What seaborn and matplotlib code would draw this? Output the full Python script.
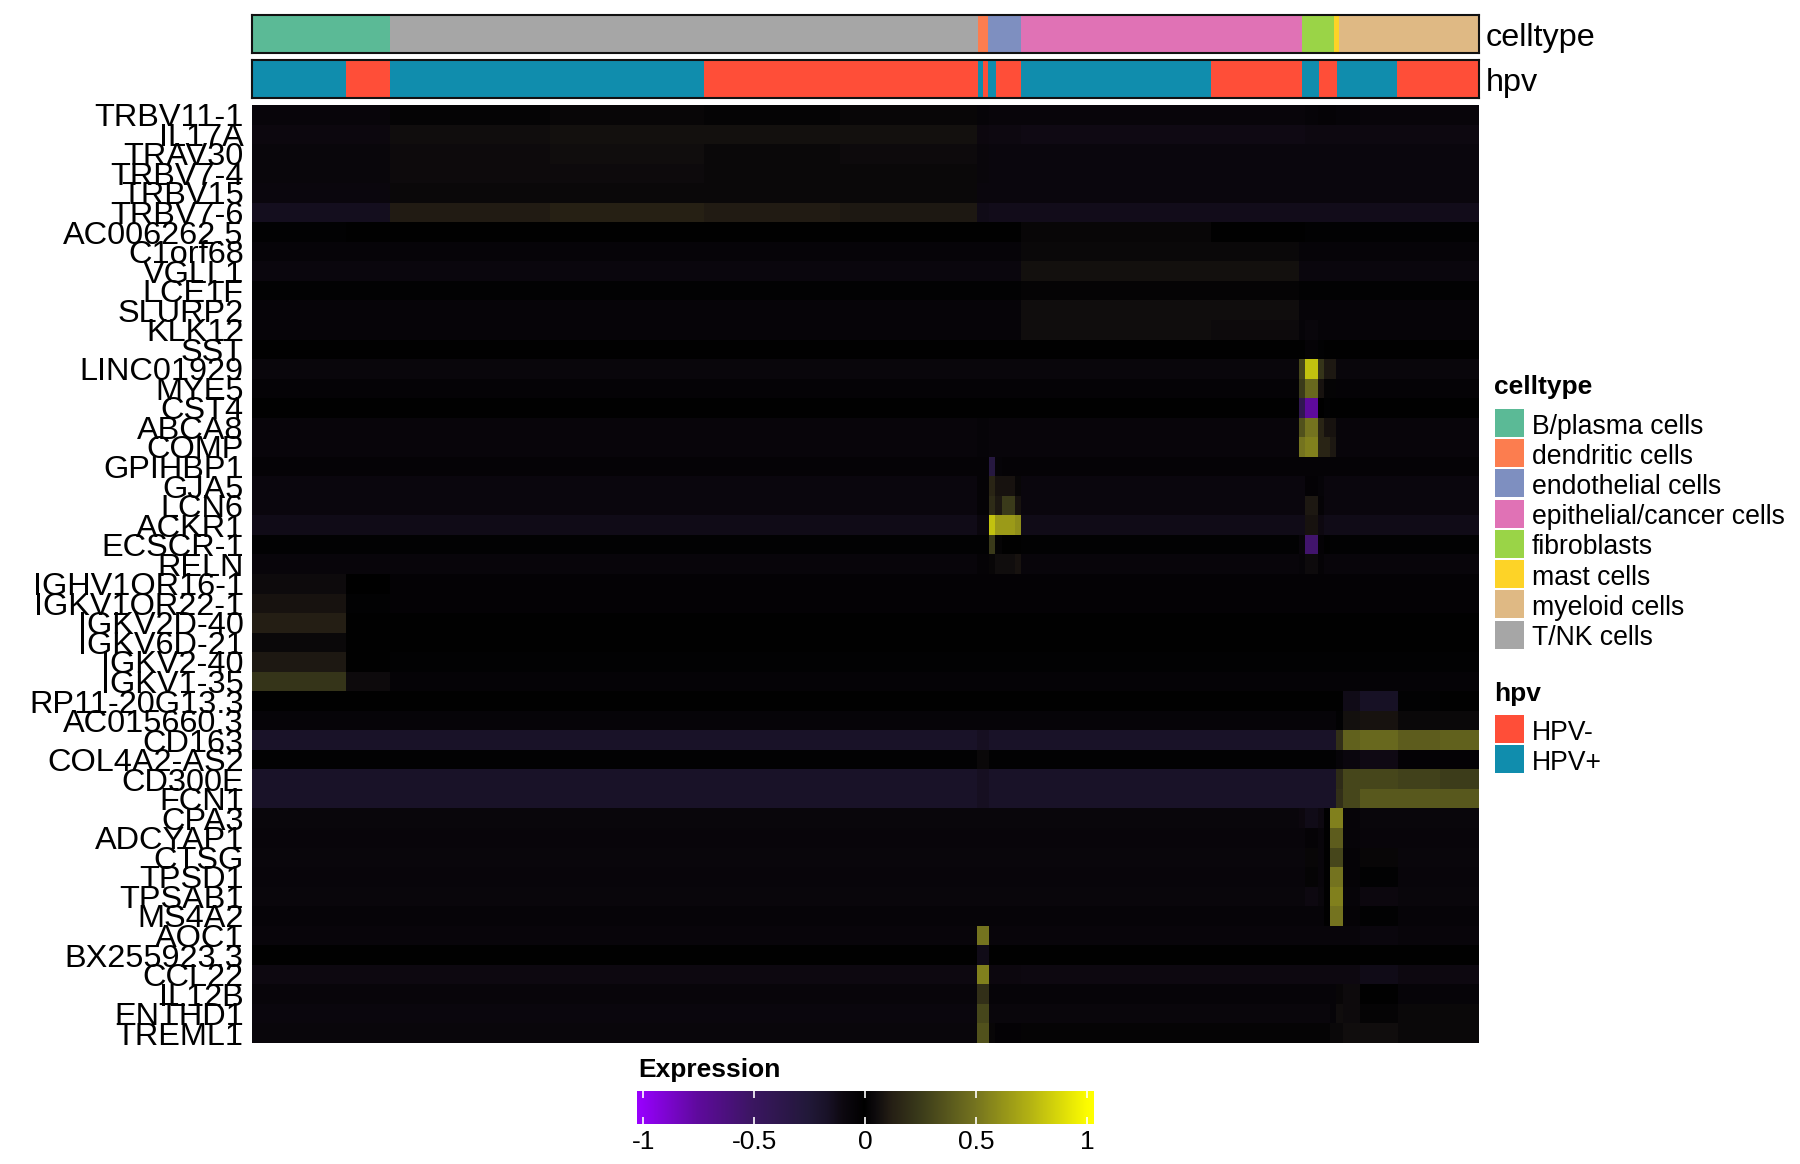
import numpy as np
import pandas as pd
import matplotlib
matplotlib.use("Agg")
import matplotlib.pyplot as plt
from matplotlib.colors import LinearSegmentedColormap, ListedColormap
from matplotlib.patches import Rectangle
from matplotlib.transforms import ScaledTranslation
import seaborn as sns

sns.set_theme(style="white")
plt.rcParams['font.family'] = ['Liberation Sans', 'DejaVu Sans']

W, H = 1800, 1164

genes = ["TRBV11-1", "IL17A", "TRAV30", "TRBV7-4", "TRBV15", "TRBV7-6", "AC006262.5", "C1orf68",
         "VGLL1", "LCE1F", "SLURP2", "KLK12", "SST", "LINC01929", "MYE5", "CST4", "ABCA8", "COMP",
         "GPIHBP1", "GJA5", "LCN6", "ACKR1", "ECSCR-1", "RELN", "IGHV1OR16-1", "IGKV1OR22-1",
         "IGKV2D-40", "IGKV6D-21", "IGKV2-40", "IGKV1-35", "RP11-20G13.3", "AC015660.3", "CD163",
         "COL4A2-AS2", "CD300E", "FCN1", "CPA3", "ADCYAP1", "CTSG", "TPSD1", "TPSAB1", "MS4A2",
         "AOC1", "BX255923.3", "CCL22", "IL12B", "ENTHD1", "TREML1"]

# column blocks of the expression matrix (number of columns per block)
block_sizes = [95, 44, 160, 154, 136, 137, 12, 6, 7, 13, 6, 190, 88, 6, 13, 6, 6, 6, 7, 17, 38, 42, 39]

# one list per gene, one value per block
# B1 B2 | Ta Tb Tc Td | DC | E1 E2 E3 E4 | P1 P2 P3 | F1 F2 F3 | M1 M2 | Y1 Y2 Y3 Y4
expr_rows = [
 [-.06,-.06, .02, .03, .02, .03,-.05,-.06,-.06,-.06,-.06,-.06,-.06,-.06,-.05,-.04,-.04,-.04,-.05,-.05,-.06,-.06,-.06],
 [-.09,-.09, .06, .07, .07, .07,-.09,-.10,-.10,-.10,-.10,-.11,-.11,-.11,-.10,-.10,-.10,-.10,-.10,-.10,-.10,-.10,-.10],
 [-.07,-.07, .05, .06, .04, .05,-.07,-.08,-.08,-.08,-.08,-.08,-.08,-.08,-.08,-.08,-.08,-.08,-.08,-.08,-.08,-.08,-.08],
 [-.07,-.07, .05, .05, .04, .04,-.07,-.08,-.08,-.08,-.08,-.08,-.08,-.08,-.08,-.08,-.08,-.08,-.08,-.08,-.08,-.08,-.08],
 [-.08,-.08, .04, .04, .04, .04,-.08,-.08,-.08,-.08,-.08,-.08,-.08,-.08,-.08,-.08,-.08,-.08,-.08,-.08,-.08,-.08,-.08],
 [-.14,-.14, .11, .13, .11, .10,-.12,-.13,-.13,-.13,-.13,-.13,-.13,-.13,-.13,-.13,-.13,-.13,-.13,-.13,-.13,-.13,-.13],
 [-.02,-.01,-.01,-.01,-.01,-.01,-.01,-.01,-.01,-.01,-.01, .03,-.01,-.01,-.02,-.02,-.02,-.02,-.02,-.02,-.02,-.02,-.02],
 [-.05,-.05,-.05,-.05,-.05,-.05,-.05,-.05,-.05,-.05,-.05, .04, .04,-.05,-.05,-.05,-.05,-.05,-.05,-.05,-.05,-.05,-.05],
 [-.08,-.08,-.08,-.08,-.08,-.08,-.08,-.08,-.08,-.08,-.08, .07, .07,-.08,-.08,-.08,-.08,-.08,-.08,-.08,-.08,-.08,-.08],
 [-.02,-.02,-.02,-.02,-.02,-.02,-.02,-.02,-.02,-.02,-.02, .02, .02,-.02,-.02,-.02,-.02,-.02,-.02,-.02,-.02,-.02,-.02],
 [-.05,-.05,-.05,-.05,-.05,-.05,-.05,-.05,-.05,-.05,-.05, .06, .06,-.05,-.05,-.05,-.05,-.05,-.05,-.05,-.05,-.05,-.05],
 [-.05,-.05,-.05,-.05,-.05,-.05,-.05,-.05,-.05,-.05,-.05, .06, .05,-.05,-.07,-.05,-.05,-.05,-.05,-.05,-.05,-.05,-.05],
 [-.01,-.01,-.01,-.01,-.01,-.01,-.01,-.01,-.01,-.01,-.01,-.01,-.01,-.01,-.04,-.02,-.01,-.01,-.01,-.01,-.01,-.01,-.01],
 [-.07,-.07,-.07,-.07,-.07,-.07,-.07,-.07,-.07,-.07,-.07,-.07,-.07, .30, .80, .22, .10, .10,-.07,-.07,-.07,-.07,-.07],
 [-.04,-.04,-.04,-.04,-.04,-.04,-.04,-.04,-.04,-.04,-.04,-.04,-.04, .25, .45, .08, .02, .02,-.04,-.04,-.04,-.04,-.04],
 [-.01,-.01,-.01,-.01,-.01,-.01,-.01,-.01,-.01,-.01,-.01,-.01,-.01,-.40,-.75, .00,-.02,-.01,-.01,-.01,-.01,-.01,-.01],
 [-.06,-.06,-.06,-.06,-.06,-.06,-.05,-.06,-.06,-.06,-.06,-.06,-.06, .35, .50, .15, .08, .08,-.06,-.06,-.06,-.06,-.06],
 [-.06,-.06,-.06,-.06,-.06,-.06,-.05,-.06,-.06,-.06,-.06,-.06,-.06, .50, .55, .15, .15, .10,-.06,-.06,-.06,-.06,-.06],
 [-.04,-.04,-.04,-.04,-.04,-.04,-.04,-.30,-.05,-.04,-.04,-.04,-.04,-.04,-.04,-.04,-.04,-.04,-.04,-.04,-.04,-.04,-.04],
 [-.08,-.08,-.08,-.08,-.08,-.08,-.04, .15, .08, .08, .03,-.08,-.08,-.08,-.03,-.05,-.08,-.08,-.08,-.08,-.08,-.08,-.08],
 [-.08,-.08,-.08,-.08,-.08,-.08,-.04, .18, .10, .25, .08,-.08,-.08,-.08, .10,-.04,-.08,-.08,-.08,-.08,-.08,-.08,-.08],
 [-.12,-.12,-.12,-.12,-.12,-.12,-.08, .80, .65, .65, .60,-.12,-.12,-.12, .08,-.10,-.12,-.12,-.12,-.12,-.12,-.12,-.12],
 [-.02,-.02,-.02,-.02,-.02,-.02,-.02, .25, .02,-.01,-.01,-.02,-.02,-.06,-.55,-.03,-.01,-.02,-.02,-.02,-.02,-.02,-.02],
 [-.06,-.06,-.06,-.06,-.06,-.06,-.04, .03, .06, .06, .08,-.06,-.06,-.05, .05,-.04,-.06,-.06,-.06,-.06,-.06,-.06,-.06],
 [ .05, .00,-.03,-.03,-.03,-.03,-.03,-.03,-.03,-.03,-.03,-.03,-.03,-.03,-.03,-.03,-.03,-.03,-.03,-.03,-.03,-.03,-.03],
 [ .08,-.02,-.03,-.03,-.03,-.03,-.03,-.03,-.03,-.03,-.03,-.03,-.03,-.03,-.03,-.03,-.03,-.03,-.03,-.03,-.03,-.03,-.03],
 [ .12,-.01,-.01,-.01,-.01,-.01,-.01,-.01,-.01,-.01,-.01,-.01,-.01,-.01,-.01,-.01,-.01,-.01,-.01,-.01,-.01,-.01,-.01],
 [ .04,-.01,-.01,-.01,-.01,-.01,-.01,-.01,-.01,-.01,-.01,-.01,-.01,-.01,-.01,-.01,-.01,-.01,-.01,-.01,-.01,-.01,-.01],
 [ .10,-.01,-.02,-.02,-.02,-.02,-.02,-.02,-.02,-.02,-.02,-.02,-.02,-.02,-.02,-.02,-.02,-.02,-.02,-.02,-.02,-.02,-.02],
 [ .22, .05,-.04,-.04,-.04,-.04,-.04,-.04,-.04,-.04,-.04,-.04,-.04,-.04,-.04,-.04,-.04,-.04,-.04,-.04,-.04,-.04,-.04],
 [-.01,-.01,-.01,-.01,-.01,-.01,-.01,-.01,-.01,-.01,-.01,-.01,-.01,-.01,-.01,-.01,-.01,-.01,-.01,-.12,-.16,-.02,-.01],
 [-.05,-.05,-.05,-.05,-.05,-.05,-.05,-.05,-.05,-.05,-.05,-.05,-.05,-.05,-.05,-.05,-.05,-.05,-.02, .07, .08, .04, .04],
 [-.17,-.17,-.17,-.17,-.17,-.17,-.15,-.17,-.17,-.17,-.17,-.17,-.17,-.17,-.17,-.17,-.17,-.17, .20, .42, .45, .40, .42],
 [-.02,-.02,-.02,-.02,-.02,-.02, .04,-.02,-.02,-.02,-.02,-.02,-.02,-.02,-.02,-.02,-.02,-.02,-.05,-.08,-.11,-.03,-.03],
 [-.17,-.17,-.17,-.17,-.17,-.17,-.15,-.17,-.17,-.17,-.17,-.17,-.17,-.17,-.17,-.17,-.17,-.17, .18, .30, .30, .28, .26],
 [-.17,-.17,-.17,-.17,-.17,-.17,-.15,-.17,-.17,-.17,-.17,-.17,-.17,-.17,-.17,-.17,-.17,-.17, .20, .30, .38, .38, .38],
 [-.07,-.07,-.07,-.07,-.07,-.07,-.07,-.07,-.07,-.07,-.07,-.07,-.07,-.09,-.12,-.10,-.01, .55, .55,-.05,-.07,-.07,-.07],
 [-.06,-.06,-.06,-.06,-.06,-.06,-.06,-.06,-.06,-.06,-.06,-.06,-.06,-.06,-.04,-.06,-.01, .40, .40,-.05,-.06,-.06,-.06],
 [-.07,-.07,-.07,-.07,-.07,-.07,-.07,-.07,-.07,-.07,-.07,-.07,-.07,-.07, .03,-.06,-.01, .30, .30,-.04, .03,-.07,-.07],
 [-.06,-.06,-.06,-.06,-.06,-.06,-.06,-.06,-.06,-.06,-.06,-.06,-.06,-.06, .02,-.06,-.01, .50, .50,-.04,-.02,-.06,-.06],
 [-.07,-.07,-.07,-.07,-.07,-.07,-.07,-.07,-.07,-.07,-.07,-.07,-.07,-.07,-.10,-.07,-.01, .55, .55,-.05,-.09,-.07,-.07],
 [-.05,-.05,-.05,-.05,-.05,-.05,-.05,-.05,-.05,-.05,-.05,-.05,-.05,-.05,-.05,-.05,-.01, .50, .50,-.04,-.02,-.05,-.05],
 [-.06,-.06,-.06,-.06,-.06,-.06, .50,-.06,-.06,-.06,-.06,-.06,-.06,-.06,-.06,-.06,-.06,-.06,-.06,-.06,-.08,-.06,-.06],
 [-.01,-.01,-.01,-.01,-.01,-.01,-.12,-.01,-.01,-.01,-.01,-.01,-.01,-.01,-.01,-.01,-.01,-.01,-.01,-.01,-.01,-.01,-.01],
 [-.10,-.10,-.10,-.10,-.10,-.10, .55,-.09,-.09,-.09,-.09,-.10,-.10,-.10,-.10,-.10,-.10,-.10,-.10,-.10,-.12,-.10,-.10],
 [-.06,-.06,-.06,-.06,-.06,-.06, .20,-.05,-.05,-.05,-.05,-.05,-.05,-.05,-.05,-.05,-.05,-.05, .03, .05,-.01,-.05,-.05],
 [-.08,-.08,-.08,-.08,-.08,-.08, .30,-.07,-.07,-.07,-.07,-.07,-.07,-.07,-.07,-.07,-.07,-.05, .06, .05, .02, .04, .04],
 [-.07,-.07,-.07,-.07,-.07,-.07, .35, .03,-.03,-.03,-.03, .02, .02, .02, .02, .02, .02, .04, .04, .06, .06, .04, .04],
]

celltype_names = ["B/plasma cells", "dendritic cells", "endothelial cells", "epithelial/cancer cells",
                  "fibroblasts", "mast cells", "myeloid cells", "T/NK cells"]
celltype_colors = ["#5BBA96", "#FC7D4F", "#7E8FC0", "#E072B5", "#9AD447", "#FDD327", "#DFB984", "#A6A6A6"]
celltype_order = [0, 7, 1, 2, 3, 4, 5, 6]
celltype_counts = [139, 588, 10, 33, 281, 32, 5, 140]

hpv_names = ["HPV-", "HPV+"]
hpv_colors = ["#FF4E38", "#108DAD"]
hpv_runs = [1, 0, 1, 0, 1, 0, 1, 0, 1, 0, 1, 0, 0, 1, 1, 0]
hpv_counts = [95, 44, 314, 274, 5, 5, 8, 25, 190, 91, 17, 15, 3, 1, 59, 82]

cbar_ticks = [-1, -0.5, 0, 0.5, 1]
cbar_ticklabels = ["-1", "-0.5", "0", "0.5", "1"]


def axes_px(x0, y0, x1, y1):
    return [x0 / W, 1 - y1 / H, (x1 - x0) / W, (y1 - y0) / H]


fig = plt.figure(figsize=(18, 11.64), dpi=100, facecolor="white")

# expression colour scale: purple, black, yellow (colour bar runs a little past +-1)
vlim = 1.03
nodes = [(-1.03, "#9A00FF"), (-1.0, "#9400F8"), (-0.75, "#5E0A9C"), (-0.5, "#3A1660"), (-0.25, "#211838"),
         (-0.17, "#191228"), (-0.1, "#0D0810"), (0, "#000000"), (0.05, "#0D0A0C"), (0.12, "#241E14"),
         (0.25, "#3A3A1A"), (0.5, "#74731F"), (0.75, "#B4B313"), (1.0, "#FBFB00"), (1.03, "#FFFF00")]
cmap = LinearSegmentedColormap.from_list("pby", [((v + vlim) / (2 * vlim), c) for v, c in nodes], N=1024)

# celltype strip
ax_ct = fig.add_axes(axes_px(251.5, 14.8, 1479, 52.8))
ct_codes = np.repeat(celltype_order, celltype_counts)[None, :]
sns.heatmap(ct_codes, ax=ax_ct, cmap=ListedColormap(celltype_colors), vmin=-0.5, vmax=7.5,
            cbar=False, xticklabels=False, yticklabels=False)

# hpv strip
ax_hpv = fig.add_axes(axes_px(251.5, 60, 1479, 98))
hpv_codes = np.repeat(hpv_runs, hpv_counts)[None, :]
sns.heatmap(hpv_codes, ax=ax_hpv, cmap=ListedColormap(hpv_colors), vmin=-0.5, vmax=1.5,
            cbar=False, xticklabels=False, yticklabels=False)

for ax, label in ((ax_ct, "celltype"), (ax_hpv, "hpv")):
    for s in ax.spines.values():
        s.set_visible(True)
        s.set_color("#111111")
        s.set_linewidth(1.5)
    ax.text(1.0058, 0.48, label, transform=ax.transAxes, ha="left", va="center_baseline",
            fontsize=23.3, color="black")

# expression matrix
ax_heat = fig.add_axes(axes_px(251.5, 105, 1479, 1043))
ax_cbar = fig.add_axes(axes_px(636.7, 1091, 1094, 1123.5))
matrix = pd.DataFrame(np.repeat(np.array(expr_rows), block_sizes, axis=1), index=genes)
sns.heatmap(matrix, ax=ax_heat, cmap=cmap, vmin=-vlim, vmax=vlim, center=None,
            xticklabels=False, yticklabels=True, cbar_ax=ax_cbar,
            cbar_kws={"orientation": "horizontal", "ticks": cbar_ticks}, rasterized=True)
ax_heat.tick_params(axis="y", length=0, pad=5.6, labelsize=23.4, labelcolor="black", rotation=0)
label_shift = ScaledTranslation(0, -3.5 / 100, fig.dpi_scale_trans)
for t in ax_heat.get_yticklabels():
    t.set_va("center")
    t.set_ha("right")
    t.set_transform(t.get_transform() + label_shift)

# colour bar
ax_cbar.set_axisbelow(False)
ax_cbar.set_xticks(cbar_ticks)
ax_cbar.set_xticklabels(cbar_ticklabels, fontsize=19, color="black")
ax_cbar.tick_params(axis="x", which="major", direction="in", length=5, width=1.2, color="white",
                    top=True, bottom=True, pad=4.8)
ax_cbar.minorticks_off()
for s in ax_cbar.spines.values():
    s.set_visible(False)
for coll in ax_cbar.collections:
    coll.set_edgecolor("face")
fig.text(638 / W, 1 - 1068 / H, "Expression", fontsize=19, fontweight="bold", ha="left", va="center_baseline",
         color="black")


# legends
def legend_block(title, title_y, names, colors, first_y):
    fig.text(1494 / W, 1 - title_y / H, title, fontsize=19, fontweight="bold", ha="left", va="center_baseline",
             color="black")
    for i, (name, col) in enumerate(zip(names, colors)):
        top = first_y + i * 30.24
        fig.add_artist(Rectangle((1495 / W, 1 - (top + 28) / H), 28.5 / W, 28 / H, transform=fig.transFigure,
                                 facecolor=col, edgecolor="none"))
        fig.text(1532 / W, 1 - (top + 14.5) / H, name, fontsize=19.2, ha="left", va="center_baseline", color="black")


legend_block("celltype", 384.5, celltype_names, celltype_colors, 409)
legend_block("hpv", 691.5, hpv_names, hpv_colors, 715)

fig.savefig("out.png", dpi=100, facecolor="white")
